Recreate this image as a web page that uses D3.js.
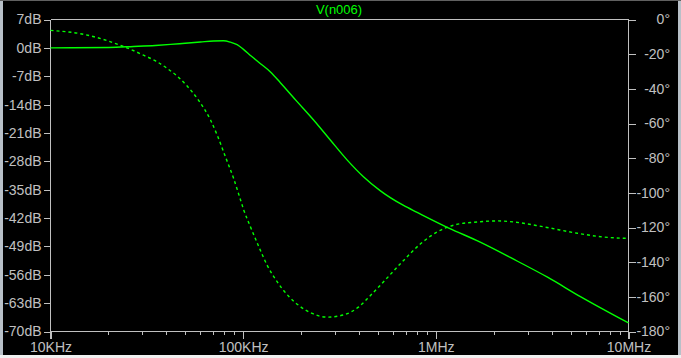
<!DOCTYPE html>
<html>
<head>
<meta charset="utf-8">
<script src="https://cdn.jsdelivr.net/npm/d3@7"></script>
<style>
  html, body { margin: 0; padding: 0; background: #000; }
  svg { display: block; }
  text { font-family: "Liberation Sans", Arial, sans-serif; }
</style>
</head>
<body>
<svg id="chart"></svg>
<script>
const chartSize = { width: 681, height: 358 };
const plot = { left: 50.5, right: 628.5, top: 19.5, bottom: 331.5 };

// magnitude curve, solid (frequency Hz, dB)
const magFreq = [10000, 20000, 27000, 35000, 42000, 50000, 60000, 70000, 79000, 86000, 93000,
  100000, 110000, 123000, 139000, 156000, 190000, 232000, 284000, 347000, 421000, 516000,
  680000, 800000, 1160000, 1710000, 2640000, 3800000, 5630000, 10000000];
const magDb = [0, 0.1, 0.35, 0.6, 0.85, 1.15, 1.45, 1.7, 1.75, 1.4, 0.8,
  -0.3, -2.0, -3.9, -6.0, -8.6, -13.2, -17.8, -22.8, -27.7, -31.8, -35.3,
  -38.9, -40.6, -44.4, -48.0, -52.6, -56.6, -61.4, -67.9];

// phase curve, dotted (frequency Hz, degrees)
const phaseFreq = [10000, 14300, 19700, 22600, 25400, 30400, 35100, 40300, 44600, 51200, 58600,
  67700, 73300, 80900, 89100, 96900, 100700, 109000, 120500, 133000, 150000, 172600,
  198000, 228000, 273000, 333000, 398000, 458000, 516000, 680000, 833000, 1016000,
  1240000, 1640000, 2080000, 2530000, 3620000, 5420000, 7410000, 10000000];
const phaseDeg = [-6.3, -8.2, -12.2, -14.6, -16.7, -20.6, -23.9, -28.2, -31.9, -38.4, -46.5,
  -58, -66.7, -79.2, -91.5, -104.1, -109.9, -119.5, -131, -141.6, -151.2, -159.8,
  -165.6, -169.6, -171.7, -170.4, -165.8, -159.2, -153.2, -139, -129.4, -122.6,
  -118.6, -116.8, -116.2, -116.8, -119.6, -123.3, -125.5, -126.3];

const dbTicks = [7, 0, -7, -14, -21, -28, -35, -42, -49, -56, -63, -70];
const degTicks = [0, -20, -40, -60, -80, -100, -120, -140, -160, -180];
const freqTicks = [1e4, 1e5, 1e6, 1e7];
const freqLabels = ["10KHz", "100KHz", "1MHz", "10MHz"];
const title = "V(n006)";

const axisColour = "#c0c0c0";
const traceColour = "#00ff00";

const svg = d3.select("#chart")
  .attr("width", chartSize.width)
  .attr("height", chartSize.height);

// window frame
svg.append("rect").attr("width", chartSize.width).attr("height", chartSize.height).attr("fill", "#000");
svg.append("rect").attr("x", 0).attr("y", 0).attr("width", 3).attr("height", chartSize.height).attr("fill", "#b8c0c8");
svg.append("rect").attr("x", chartSize.width - 3).attr("y", 0).attr("width", 3).attr("height", chartSize.height).attr("fill", "#b8c0c8");
svg.append("rect").attr("x", 0).attr("y", chartSize.height - 3).attr("width", chartSize.width).attr("height", 3).attr("fill", "#f0f0f0");
svg.append("rect").attr("x", 0).attr("y", 0).attr("width", chartSize.width).attr("height", 1).attr("fill", "#606060");

const xScale = d3.scaleLog().domain([1e4, 1e7]).range([plot.left, plot.right]);
const yDb = d3.scaleLinear().domain([7, -70]).range([plot.top, plot.bottom]);
const yDeg = d3.scaleLinear().domain([0, -180]).range([plot.top, plot.bottom]);

const g = svg.append("g");

// frame lines
g.append("path")
  .attr("d", `M${plot.left},${plot.top}H${plot.right}M${plot.left},${plot.bottom}H${plot.right}` +
    `M${plot.left},${plot.top}V${plot.bottom + 7}M${plot.right},${plot.top}V${plot.bottom + 7}`)
  .attr("stroke", axisColour).attr("fill", "none").attr("shape-rendering", "crispEdges");

// left axis
const leftAxis = d3.axisLeft(yDb).tickValues(dbTicks).tickSize(7).tickPadding(2).tickFormat(d => `${d}dB`);
g.append("g").attr("transform", `translate(${plot.left},0)`).call(leftAxis);

// right axis
const rightAxis = d3.axisRight(yDeg).tickValues(degTicks).tickSize(7).tickFormat(d => `${d}°`);
const gr = g.append("g").attr("transform", `translate(${plot.right},0)`).call(rightAxis);
gr.selectAll("text").attr("text-anchor", "end").attr("x", 670 - plot.right);

// bottom axis: major + minor ticks
const minor = [];
for (let dec = 1e4; dec < 1e7; dec *= 10) {
  for (let m = 2; m <= 9; m++) minor.push(dec * m);
}
const minorAxis = d3.axisBottom(xScale).tickValues(minor).tickSize(3).tickFormat("");
g.append("g").attr("transform", `translate(0,${plot.bottom})`).call(minorAxis);
const majorAxis = d3.axisBottom(xScale).tickValues(freqTicks).tickSize(7).tickPadding(4)
  .tickFormat((d, i) => freqLabels[i]);
g.append("g").attr("transform", `translate(0,${plot.bottom})`).call(majorAxis);

g.selectAll(".domain").remove();
g.selectAll(".tick line").attr("stroke", axisColour).attr("shape-rendering", "crispEdges");
g.selectAll(".tick text").attr("fill", axisColour).attr("font-size", 14)
  .attr("font-family", "'Liberation Sans', Arial, sans-serif");

// title
svg.append("text")
  .attr("x", 339).attr("y", 14)
  .attr("text-anchor", "middle")
  .attr("fill", traceColour)
  .attr("font-size", 13)
  .text(title);

// traces
const magLine = d3.line()
  .x(d => xScale(d[0])).y(d => yDb(d[1]))
  .curve(d3.curveMonotoneX);
const phaseLine = d3.line()
  .x(d => xScale(d[0])).y(d => yDeg(d[1]))
  .curve(d3.curveMonotoneX);

g.append("path")
  .datum(d3.zip(magFreq, magDb))
  .attr("d", magLine)
  .attr("fill", "none").attr("stroke", traceColour).attr("stroke-width", 1.4);

g.append("path")
  .datum(d3.zip(phaseFreq, phaseDeg))
  .attr("d", phaseLine)
  .attr("fill", "none").attr("stroke", traceColour).attr("stroke-width", 1.4)
  .attr("stroke-dasharray", "3,3");
</script>
</body>
</html>
